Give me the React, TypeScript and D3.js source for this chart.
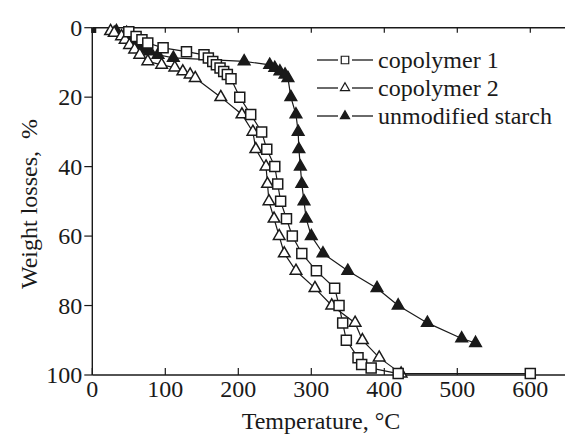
import React from 'react';
import * as d3 from 'd3';

// copolymer 1 (open squares)
const temps1 = [50, 60, 68, 76, 97, 129, 153, 159, 165, 170, 175, 180, 185, 190, 202, 217, 232, 239, 250, 254, 258, 266, 274, 287, 307, 332, 338, 343, 348, 364, 369, 382, 419, 600];
const losses1 = [1.2, 2.5, 3.5, 4.4, 5.8, 6.9, 7.8, 8.7, 9.7, 10.7, 11.6, 12.6, 13.5, 14.7, 20, 25, 30, 35, 40, 45, 50, 55, 60, 65, 70, 75, 80, 85, 90, 95, 97, 98, 99.6, 99.6];

// copolymer 2 (open triangles)
const temps2 = [25, 30, 40, 45, 51, 58, 65, 76, 95, 113, 124, 134, 141, 176, 205, 220, 224, 238, 240, 242, 249, 256, 263, 279, 305, 328, 360, 370, 393, 423];
const losses2 = [1, 1.5, 2.5, 3.5, 5, 6.3, 7.8, 9.7, 10.7, 11.5, 12.6, 13.5, 14.5, 20, 25, 30, 35, 40, 45, 50, 55, 60, 65, 70, 75, 80, 85, 90, 95, 99.6];

// unmodified starch (filled triangles)
const temps3 = [33, 47, 52, 56, 61, 65, 72, 79, 90, 111, 208, 243, 250, 257, 264, 268, 272, 279, 282, 283, 285, 287, 290, 293, 300, 316, 350, 390, 419, 459, 506, 525];
const losses3 = [1, 1.5, 2.5, 3.5, 4.4, 5.4, 6.3, 6.8, 7.8, 8.7, 9.7, 10.7, 11.6, 12.6, 13.5, 14.5, 20, 25, 30, 35, 40, 45, 50, 55, 60, 65, 70, 75, 80, 85, 89.5, 90.8];

// small filled square at the start
const startTemps = [2];
const startLosses = [0.8];

const xTicks = [0, 100, 200, 300, 400, 500, 600];
const yTicks = [0, 20, 40, 60, 80, 100];
const legendLabels = ['copolymer 1', 'copolymer 2', 'unmodified starch'];

const font = '"Liberation Serif", "Times New Roman", serif';
const ink = '#1a1a1a';

const App = () => {
  const width = 565;
  const height = 444;

  const x = d3.scaleLinear().domain([0, 650]).range([92.3, 566.8]);
  const y = d3.scaleLinear().domain([0, 100]).range([27.7, 375]);

  const line = d3
    .line<[number, number]>()
    .x((d) => x(d[0]))
    .y((d) => y(d[1]));

  const square = d3.symbol().type(d3.symbolSquare).size(100)()!;
  const triangle = d3.symbol().type(d3.symbolTriangle).size(58)()!;
  const squareSmall = d3.symbol().type(d3.symbolSquare).size(56)()!;
  const triangleSmall = d3.symbol().type(d3.symbolTriangle).size(36)()!;

  const series = [
    { t: temps3, w: losses3, shape: triangle, legendShape: triangleSmall, fill: ink, row: 2 },
    { t: temps2, w: losses2, shape: triangle, legendShape: triangleSmall, fill: '#fff', row: 1 },
    { t: temps1, w: losses1, shape: square, legendShape: squareSmall, fill: '#fff', row: 0 },
  ];

  const x0 = x(0);
  const yTop = y(0);
  const yBottom = y(100);

  return (
    <svg width={width} height={height} style={{ position: 'absolute', left: 0, top: 0, background: '#fff' }}>
      {/* axes frame */}
      <line x1={x0} x2={width} y1={yTop} y2={yTop} stroke={ink} strokeWidth={1.4} />
      <line x1={x0} x2={width} y1={yBottom} y2={yBottom} stroke={ink} strokeWidth={1.4} />
      <line x1={x0} x2={x0} y1={yTop} y2={yBottom} stroke={ink} strokeWidth={1.4} />

      {xTicks.map((t) => (
        <g key={'x' + t}>
          <line x1={x(t)} x2={x(t)} y1={yBottom} y2={yBottom - 7} stroke={ink} strokeWidth={1.2} />
          <line x1={x(t)} x2={x(t)} y1={yTop} y2={yTop + 5} stroke={ink} strokeWidth={1.2} />
          <text x={x(t)} y={yBottom + 22} textAnchor="middle" fontFamily={font} fontSize={24} fill={ink}>
            {t}
          </text>
        </g>
      ))}

      {yTicks.map((t) => (
        <g key={'y' + t}>
          <line x1={x0 - 8} x2={x0} y1={y(t)} y2={y(t)} stroke={ink} strokeWidth={1.2} />
          <text x={x0 - 10} y={y(t) + 8} textAnchor="end" fontFamily={font} fontSize={24} fill={ink}>
            {t}
          </text>
        </g>
      ))}

      <text x={321} y={429} textAnchor="middle" fontFamily={font} fontSize={24} fill={ink}>
        Temperature, °C
      </text>
      <text
        transform={`translate(37, 204) rotate(-90)`}
        textAnchor="middle"
        fontFamily={font}
        fontSize={24}
        fill={ink}
        style={{ whiteSpace: 'pre' }}
      >
        {'Weight losses,  %'}
      </text>

      {series.map((s, i) => {
        const pts = s.t.map((t, j) => [t, s.w[j]] as [number, number]);
        return (
          <g key={'s' + i}>
            <path d={line(pts)!} fill="none" stroke={ink} strokeWidth={1.2} />
            {pts.map((p, j) => (
              <path
                key={j}
                d={s.shape}
                transform={`translate(${x(p[0])},${y(p[1])})`}
                fill={s.fill}
                stroke={ink}
                strokeWidth={1.5}
              />
            ))}
          </g>
        );
      })}

      {startTemps.map((t, j) => (
        <rect key={'st' + j} x={x(t) - 2.5} y={y(startLosses[j]) - 2.5} width={5} height={5} fill={ink} />
      ))}

      {/* legend */}
      {series.map((s) => {
        const ly = 60 + s.row * 28;
        return (
          <g key={'l' + s.row}>
            <line x1={317} x2={338} y1={ly} y2={ly} stroke={ink} strokeWidth={1.3} />
            <line x1={352} x2={373} y1={ly} y2={ly} stroke={ink} strokeWidth={1.3} />
            <path d={s.legendShape} transform={`translate(345,${ly})`} fill={s.fill} stroke={ink} strokeWidth={1.2} />
            <text x={378} y={ly + 8} fontFamily={font} fontSize={24} fill={ink}>
              {legendLabels[s.row]}
            </text>
          </g>
        );
      })}
    </svg>
  );
};

export default App;
